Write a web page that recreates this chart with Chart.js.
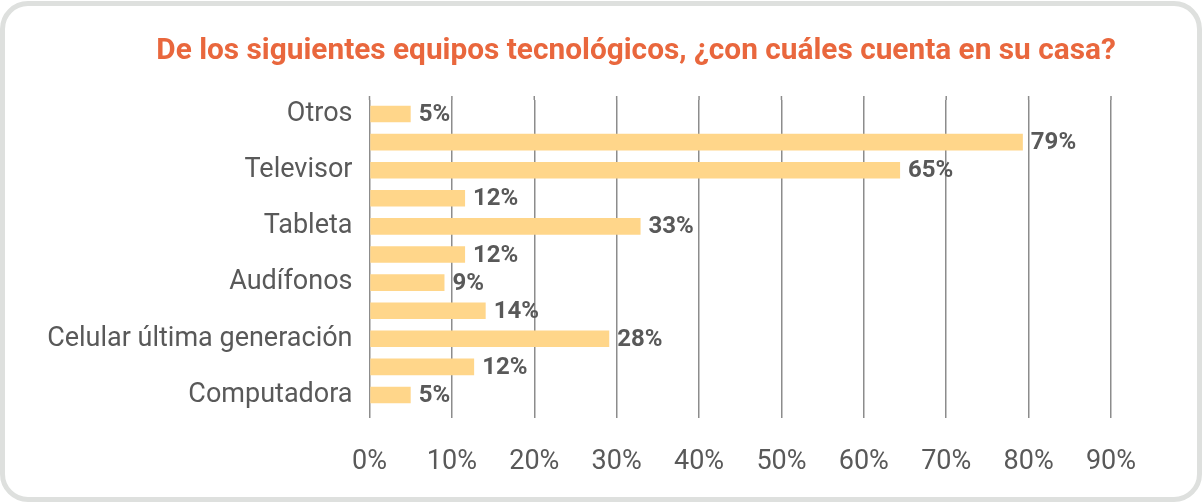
<!DOCTYPE html>
<html>
<head>
<meta charset="utf-8">
<script src="https://cdn.jsdelivr.net/npm/chart.js@4.4.1/dist/chart.umd.min.js"></script>
<style>
  html, body { margin: 0; padding: 0; background: #ffffff; }
  #wrap { position: relative; width: 1202px; height: 503px; overflow: hidden; }
  #frame { position: absolute; left: 0; top: 1px; width: 1202px; height: 501px; box-sizing: border-box;
           border: 5px solid #DEE0DE; border-radius: 28px; pointer-events: none; }
  canvas { position: absolute; left: 0; top: 0; }
</style>
</head>
<body>
<div id="wrap">
  <canvas id="c" width="1202" height="503"></canvas>
  <div id="frame"></div>
</div>
<script>
// Categories, top to bottom (every other label is skipped in the original chart)
const categories = ['Otros', '', 'Televisor', '', 'Tableta', '', 'Audífonos', '', 'Celular última generación', '', 'Computadora'];
// Bar lengths in percent as drawn, top to bottom
const values = [5, 79.3, 64.4, 11.6, 32.9, 11.6, 9.1, 14.1, 29.1, 12.7, 5];
// Value labels as printed, top to bottom
const valueLabels = ['5%', '79%', '65%', '12%', '33%', '12%', '9%', '14%', '28%', '12%', '5%'];
// X-axis ticks (percent)
const xTicks = [0, 10, 20, 30, 40, 50, 60, 70, 80, 90];
const titleText = 'De los siguientes equipos tecnológicos, ¿con cuáles cuenta en su casa?';

const FONT = 'Roboto, "Liberation Sans", sans-serif';

const labelPlugin = {
  id: 'labelPlugin',
  afterDatasetsDraw(chart) {
    const ctx = chart.ctx;
    const meta = chart.getDatasetMeta(0);
    ctx.save();
    ctx.font = 'bold 24px ' + FONT;
    ctx.fillStyle = '#595959';
    ctx.textAlign = 'left';
    ctx.textBaseline = 'middle';
    meta.data.forEach((bar, i) => {
      ctx.fillText(valueLabels[i], bar.x + 8, bar.y + 1);
    });
    ctx.restore();
  }
};

const titlePlugin = {
  id: 'titlePlugin',
  afterDraw(chart) {
    const ctx = chart.ctx;
    ctx.save();
    ctx.font = 'bold 29.8px ' + FONT;
    ctx.fillStyle = '#E9673D';
    ctx.textAlign = 'center';
    ctx.textBaseline = 'alphabetic';
    ctx.fillText(titleText, 636, 59);
    ctx.restore();
  }
};

const gridTop = {
  id: 'gridTop',
  beforeDatasetsDraw(chart) {
    const ctx = chart.ctx;
    const xs = chart.scales.x;
    const top = chart.chartArea.top;
    ctx.save();
    ctx.strokeStyle = '#8c8c8c';
    ctx.lineWidth = 1.5;
    xTicks.forEach(v => {
      const x = xs.getPixelForValue(v);
      ctx.beginPath();
      ctx.moveTo(x, top - 4);
      ctx.lineTo(x, top);
      ctx.stroke();
    });
    ctx.restore();
  }
};

new Chart(document.getElementById('c'), {
  type: 'bar',
  data: {
    labels: categories,
    datasets: [{
      data: values,
      backgroundColor: '#FFD68A',
      borderWidth: 0,
      categoryPercentage: 1,
      barPercentage: 0.59
    }]
  },
  options: {
    indexAxis: 'y',
    responsive: false,
    animation: false,
    layout: { padding: { left: 20, right: 91, top: 100, bottom: 0 } },
    plugins: {
      legend: { display: false },
      tooltip: { enabled: false },
      title: { display: false }
    },
    scales: {
      x: {
        min: 0,
        max: 90,
        afterBuildTicks(scale) { scale.ticks = xTicks.map(v => ({ value: v })); },
        afterFit(scale) { scale.height = 94; },
        grid: { color: '#8c8c8c', lineWidth: 1.5, drawTicks: true, tickLength: 9, tickColor: '#8c8c8c' },
        border: { display: false },
        ticks: {
          color: '#595959',
          font: { family: FONT, size: 27 },
          padding: 28,
          maxRotation: 0,
          callback: v => v + '%'
        }
      },
      y: {
        afterFit(scale) { scale.width = 349.5; },
        grid: { display: false, drawTicks: false },
        border: { display: false },
        ticks: {
          color: '#595959',
          font: { family: FONT, size: 27 },
          padding: 17,
          autoSkip: false
        }
      }
    }
  },
  plugins: [labelPlugin, titlePlugin, gridTop]
});
</script>
</body>
</html>
